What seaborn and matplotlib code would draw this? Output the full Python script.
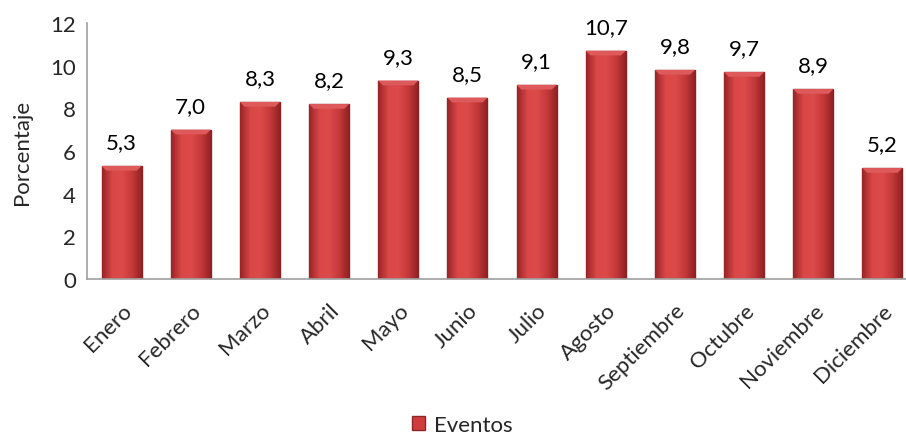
import matplotlib
matplotlib.use("Agg")
import matplotlib.pyplot as plt
import seaborn as sns
import numpy as np
import pandas as pd
from matplotlib.patches import Patch
from matplotlib.colors import LinearSegmentedColormap

meses = ["Enero", "Febrero", "Marzo", "Abril", "Mayo", "Junio", "Julio",
         "Agosto", "Septiembre", "Octubre", "Noviembre", "Diciembre"]
valores = [5.3, 7.0, 8.3, 8.2, 9.3, 8.5, 9.1, 10.7, 9.8, 9.7, 8.9, 5.2]
serie = "Eventos"
yticks = [0, 2, 4, 6, 8, 10, 12]

df = pd.DataFrame({"Mes": meses, "Porcentaje": valores})

sns.set_theme(style="white")
plt.rcParams["font.family"] = ["Lato", "DejaVu Sans"]
FS = 16

fig = plt.figure(figsize=(9.06, 4.39), dpi=100)
ax = fig.add_axes([87 / 906, 1 - 280 / 439, 830 / 906, 256 / 439])

sns.barplot(data=df, x="Mes", y="Porcentaje", color="#D03C3C", width=0.58,
            edgecolor="#8E2526", linewidth=1.0, ax=ax, saturation=1)

# gradient fill for each bar
cmap = LinearSegmentedColormap.from_list(
    "bar", ["#9A2426", "#D94747", "#DC4A4A", "#C43839", "#8C2022"])
grad = np.linspace(0, 1, 64).reshape(1, -1)
for p in ax.patches:
    x0, y0 = p.get_x(), p.get_y()
    w, h = p.get_width(), p.get_height()
    im = ax.imshow(grad, cmap=cmap, aspect="auto",
                   extent=[x0, x0 + w, y0, y0 + h], zorder=p.get_zorder() + 0.1)
    im.set_clip_path(p)
    # bevel highlight on top
    ax.fill([x0, x0 + w, x0 + w * 0.88, x0 + w * 0.12],
            [y0 + h, y0 + h, y0 + h - 0.22, y0 + h - 0.22],
            color="#DE5A5A", zorder=p.get_zorder() + 0.2, lw=0)

for i, v in enumerate(valores):
    ax.annotate(f"{v:.1f}".replace(".", ","), (i, v), xytext=(0, 10),
                textcoords="offset points", ha="center", va="bottom",
                fontsize=FS, color="black")

ax.set_xlim(-0.5, 11.5)
ax.set_ylim(0, 12)
ax.set_yticks(yticks)
ax.set_yticklabels([str(t) for t in yticks], fontsize=FS)
ax.set_xlabel("")
ax.set_ylabel("Porcentaje", fontsize=FS, labelpad=13)
ax.set_xticks(range(len(meses)))
ax.set_xticklabels(meses, rotation=45, ha="right", rotation_mode="anchor",
                   fontsize=FS)
ax.tick_params(axis="x", length=0, pad=15)
ax.tick_params(axis="y", length=0, pad=8)

for s in ["top", "right"]:
    ax.spines[s].set_visible(False)
for s in ["left", "bottom"]:
    ax.spines[s].set_color("#A0A0A0")
    ax.spines[s].set_linewidth(1.2)

handle = Patch(facecolor="#D03C3C", edgecolor="#8E2526", label=serie)
fig.legend(handles=[handle], loc="lower center", bbox_to_anchor=(0.51, -0.038),
           frameon=False, fontsize=FS, handlelength=0.6, handleheight=0.6,
           handletextpad=0.4)

fig.savefig("out.png", dpi=100)
